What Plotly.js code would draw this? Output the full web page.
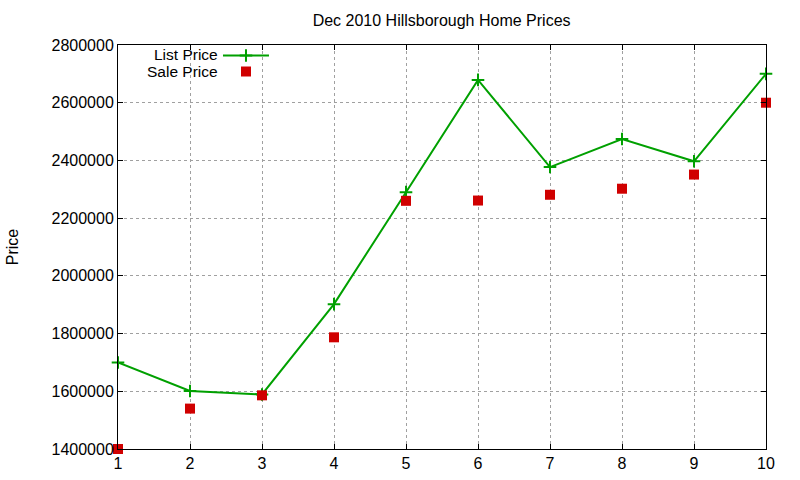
<!DOCTYPE html>
<html>
<head>
<meta charset="utf-8">
<script src="https://cdn.plot.ly/plotly-3.0.1.min.js"></script>
<style>
  html, body { margin: 0; padding: 0; background: #fff; }
  #chart { width: 800px; height: 480px; }
</style>
</head>
<body>
<div id="chart"></div>
<script>
// house index, Dec 2010 listings
const houses = [1, 2, 3, 4, 5, 6, 7, 8, 9, 10];
const listPrice = [1700000, 1601000, 1589000, 1902000, 2290000, 2679000, 2377000, 2474000, 2397000, 2700000];
const salePrice = [1400000, 1540000, 1586000, 1787000, 2260000, 2261000, 2281000, 2302000, 2351000, 2600000];
const yTicks = [1400000, 1600000, 1800000, 2000000, 2200000, 2400000, 2600000, 2800000];

const font = 'Liberation Sans, Arial, sans-serif';

const list = {
    x: houses,
    y: listPrice,
    name: ' ',
    type: 'scatter',
    mode: 'lines+markers',
    line: {color: '#00a000', width: 2},
    marker: {symbol: 'cross-thin', size: 9, line: {color: '#00a000', width: 2}},
    cliponaxis: false,
    legend: 'legend'
};
const sale = {
    x: houses,
    y: salePrice,
    name: ' ',
    type: 'scatter',
    mode: 'markers',
    marker: {symbol: 'square', size: 10, color: '#d00000'},
    cliponaxis: false,
    legend: 'legend2'
};

const axisBase = {
    showline: true,
    linecolor: '#000',
    linewidth: 1,
    mirror: 'ticks',
    ticks: 'inside',
    ticklen: 5,
    tickcolor: '#000',
    showgrid: true,
    gridcolor: '#a0a0a0',
    griddash: 'dot',
    gridwidth: 1,
    zeroline: false,
    tickfont: {family: font, size: 16, color: '#000'}
};

const legendBase = {
    xanchor: 'left', yanchor: 'top',
    bgcolor: 'rgba(0,0,0,0)',
    font: {family: font, size: 11},
    itemwidth: 46
};

const layout = {
    width: 800,
    height: 480,
    margin: {l: 118, r: 34, t: 45, b: 31},
    paper_bgcolor: '#fff',
    plot_bgcolor: '#fff',
    title: {
        text: 'Dec 2010 Hillsborough Home Prices',
        font: {family: font, size: 16, color: '#000'},
        x: 0.552, xanchor: 'center', y: 0.957, yanchor: 'middle'
    },
    xaxis: Object.assign({}, axisBase, {
        range: [1, 10],
        tickvals: houses,
        ticktext: houses.map(String)
    }),
    yaxis: Object.assign({}, axisBase, {
        range: [1400000, 2800000],
        tickvals: yTicks,
        ticktext: yTicks.map(String),
        title: {text: 'Price', font: {family: font, size: 16, color: '#000'}, standoff: 28}
    }),
    showlegend: true,
    legend: Object.assign({}, legendBase, {x: 0.1543, y: 1.0099}),
    legend2: Object.assign({}, legendBase, {x: 0.1543, y: 0.9703}),
    annotations: [
        {text: 'List Price', xref: 'paper', yref: 'paper', x: 0.157, y: 0.9775,
         xanchor: 'right', yanchor: 'middle', showarrow: false,
         font: {family: font, size: 15.5, color: '#000'}},
        {text: 'Sale Price', xref: 'paper', yref: 'paper', x: 0.158, y: 0.9335,
         xanchor: 'right', yanchor: 'middle', showarrow: false,
         font: {family: font, size: 15.5, color: '#000'}}
    ]
};

Plotly.newPlot('chart', [list, sale], layout, {displayModeBar: false, staticPlot: true});
</script>
</body>
</html>
